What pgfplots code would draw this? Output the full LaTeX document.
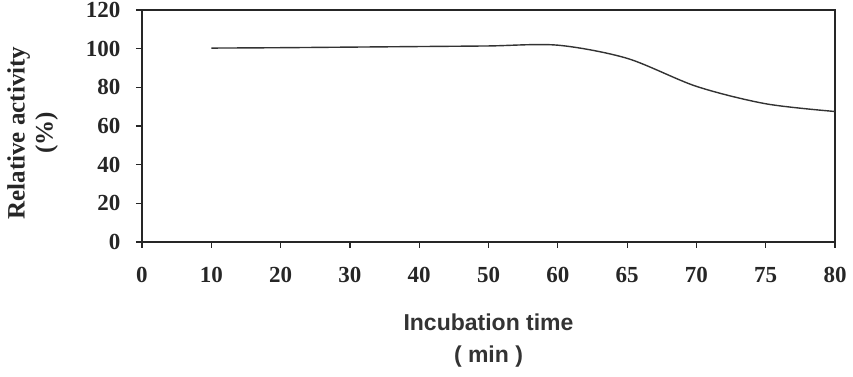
\documentclass[border=0pt]{standalone}
\usepackage{pgfplots}
\pgfplotsset{compat=1.18}
\usepackage{fontspec}
\setmainfont{Liberation Serif}
\newfontfamily\labsans{Liberation Sans}
\begin{document}
\begin{tikzpicture}
\useasboundingbox (0,0) rectangle (853pt,377pt);
\begin{axis}[
  at={(142pt,135pt)}, anchor=south west,
  width=693pt, height=232pt, scale only axis,
  xmin=0, xmax=10, ymin=0, ymax=120,
  xtick={0,1,2,3,4,5,6,7,8,9,10},
  xticklabels={0,10,20,30,40,50,60,65,70,75,80},
  ytick={0,20,40,60,80,100,120},
  tick align=outside, tick pos=left,
  major tick length=6pt,
  axis line style={line width=1.3pt, black!85},
  every tick/.style={line width=1.2pt, black!85},
  /pgf/number format/assume math mode=true,
  ticklabel style={font=\fontsize{23}{26}\selectfont\bfseries, text=black!85},
  xticklabel style={yshift=-16pt},
  yticklabel style={xshift=-12pt},
  xlabel={Incubation time\\( min )},
  xlabel style={at={(axis description cs:0.5,0)}, anchor=north, yshift=-68pt, align=center,
    font=\labsans\fontsize{23}{32}\selectfont\bfseries, text=black!80},
  ylabel={Relative activity\\(\%)},
  ylabel style={at={(axis description cs:-0.158,0.47)}, anchor=center, align=center,
    font=\fontsize{25}{28}\selectfont\bfseries, text=black!85},
]
\addplot[smooth, tension=0.5, line width=1.4pt, black!80] coordinates {
  (1,100.3) (2,100.5) (3,100.8) (4,101.1) (5,101.4) (6,101.8)
  (7,95) (8,80.5) (9,71.5) (10,67.5)
};
\end{axis}
\end{tikzpicture}
\end{document}
